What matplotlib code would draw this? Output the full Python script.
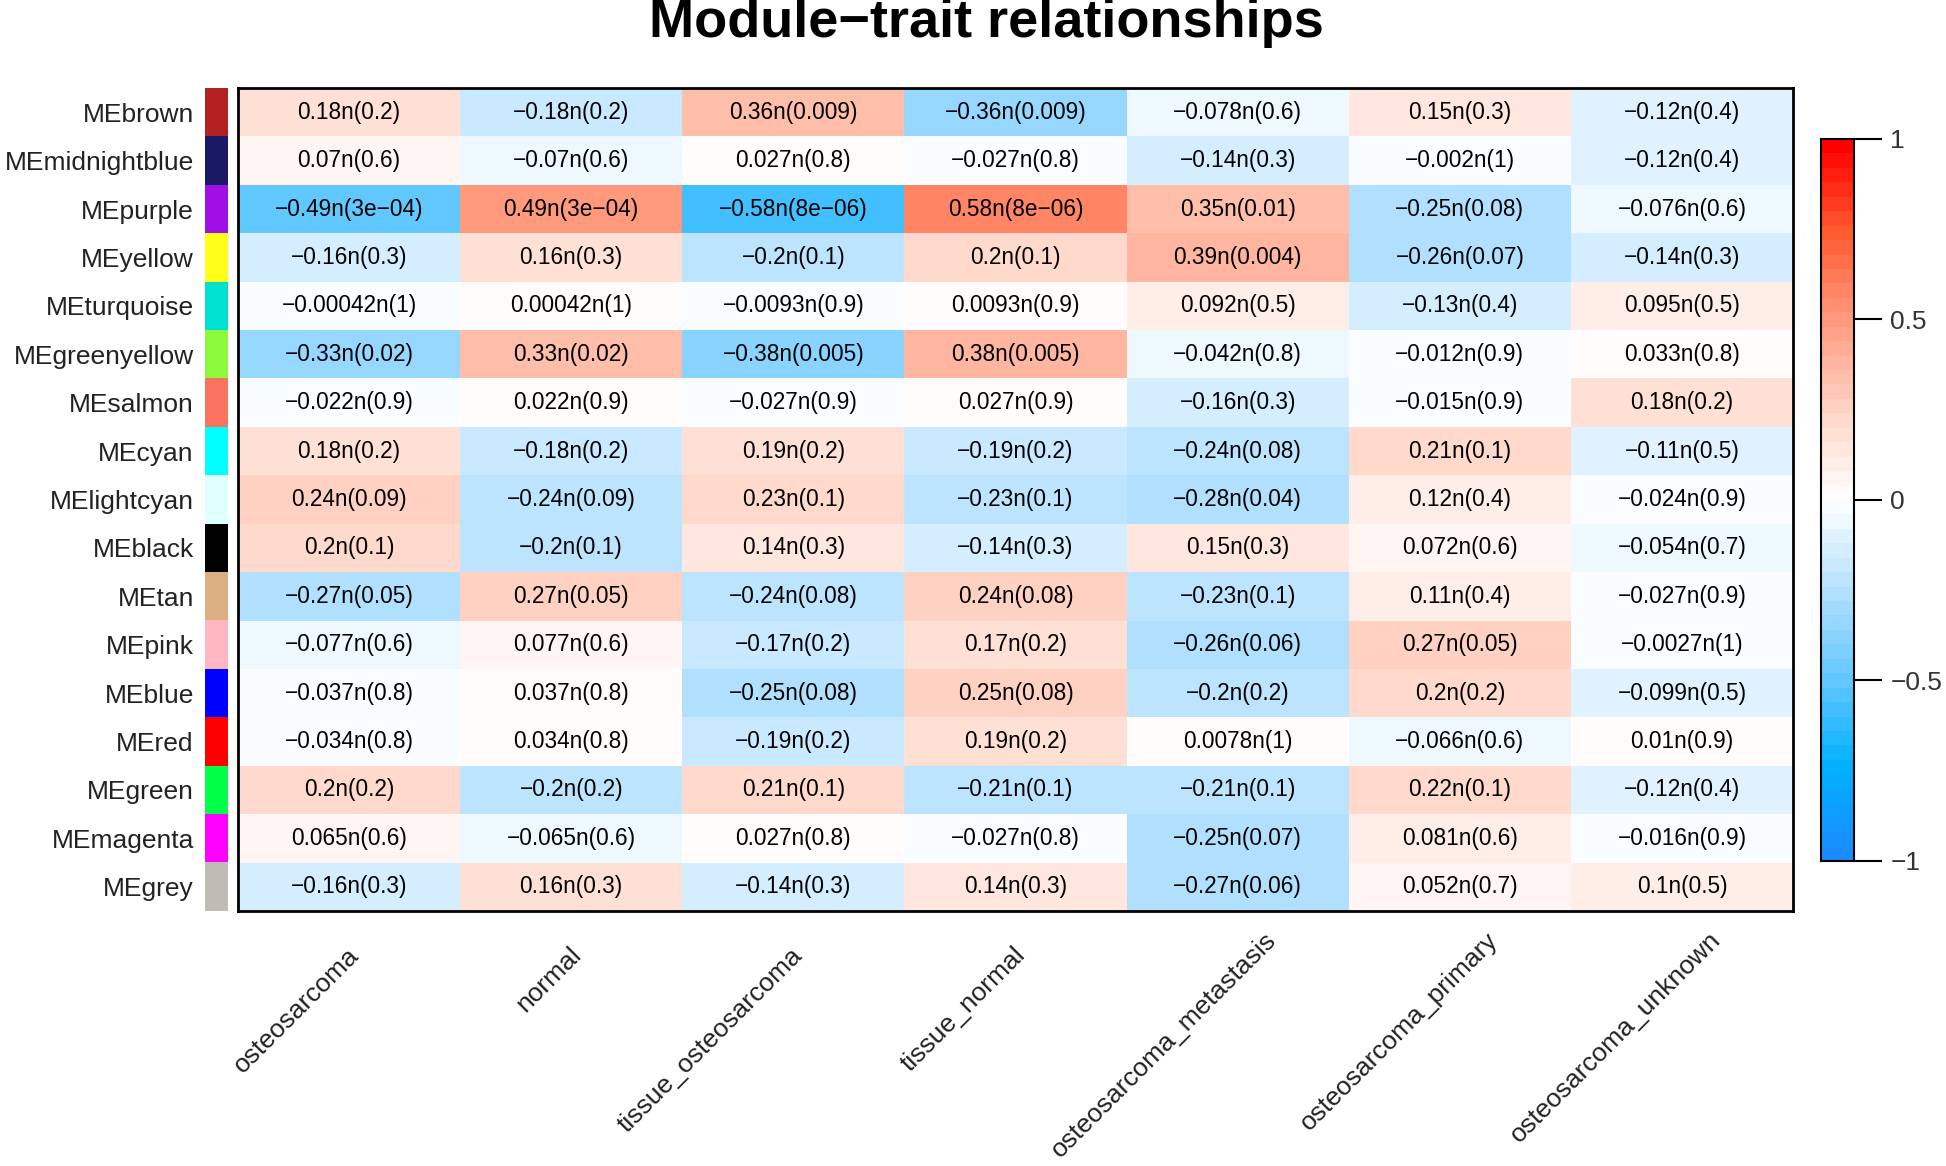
import matplotlib
matplotlib.use("Agg")
import matplotlib.pyplot as plt
import numpy as np
from matplotlib.colors import LinearSegmentedColormap, ListedColormap, BoundaryNorm

plt.rcParams['font.family'] = ['Liberation Sans', 'DejaVu Sans']

# traits (columns) and modules (rows)
traits = ["osteosarcoma", "normal", "tissue_osteosarcoma", "tissue_normal",
          "osteosarcoma_metastasis", "osteosarcoma_primary", "osteosarcoma_unknown"]
modules = ["MEbrown", "MEmidnightblue", "MEpurple", "MEyellow", "MEturquoise",
           "MEgreenyellow", "MEsalmon", "MEcyan", "MElightcyan", "MEblack", "MEtan",
           "MEpink", "MEblue", "MEred", "MEgreen", "MEmagenta", "MEgrey"]
module_colors = ["#B22222", "#191966", "#A010E6", "#FFFF1A", "#00E0D0", "#8CFA3C",
                 "#FA735F", "#00FFFF", "#E0FFFF", "#000000", "#DCAF82", "#FFB6C1",
                 "#0000FF", "#FF0000", "#00FF46", "#FF00FF", "#C0BCB4"]

# module-trait correlations
cor = [
    [0.18, -0.18, 0.36, -0.36, -0.078, 0.15, -0.12],
    [0.07, -0.07, 0.027, -0.027, -0.14, -0.002, -0.12],
    [-0.49, 0.49, -0.58, 0.58, 0.35, -0.25, -0.076],
    [-0.16, 0.16, -0.2, 0.2, 0.39, -0.26, -0.14],
    [-0.00042, 0.00042, -0.0093, 0.0093, 0.092, -0.13, 0.095],
    [-0.33, 0.33, -0.38, 0.38, -0.042, -0.012, 0.033],
    [-0.022, 0.022, -0.027, 0.027, -0.16, -0.015, 0.18],
    [0.18, -0.18, 0.19, -0.19, -0.24, 0.21, -0.11],
    [0.24, -0.24, 0.23, -0.23, -0.28, 0.12, -0.024],
    [0.2, -0.2, 0.14, -0.14, 0.15, 0.072, -0.054],
    [-0.27, 0.27, -0.24, 0.24, -0.23, 0.11, -0.027],
    [-0.077, 0.077, -0.17, 0.17, -0.26, 0.27, -0.0027],
    [-0.037, 0.037, -0.25, 0.25, -0.2, 0.2, -0.099],
    [-0.034, 0.034, -0.19, 0.19, 0.0078, -0.066, 0.01],
    [0.2, -0.2, 0.21, -0.21, -0.21, 0.22, -0.12],
    [0.065, -0.065, 0.027, -0.027, -0.25, 0.081, -0.016],
    [-0.16, 0.16, -0.14, 0.14, -0.27, 0.052, 0.1],
]

# p-values as printed
pval = [
    ["0.2", "0.2", "0.009", "0.009", "0.6", "0.3", "0.4"],
    ["0.6", "0.6", "0.8", "0.8", "0.3", "1", "0.4"],
    ["3e-04", "3e-04", "8e-06", "8e-06", "0.01", "0.08", "0.6"],
    ["0.3", "0.3", "0.1", "0.1", "0.004", "0.07", "0.3"],
    ["1", "1", "0.9", "0.9", "0.5", "0.4", "0.5"],
    ["0.02", "0.02", "0.005", "0.005", "0.8", "0.9", "0.8"],
    ["0.9", "0.9", "0.9", "0.9", "0.3", "0.9", "0.2"],
    ["0.2", "0.2", "0.2", "0.2", "0.08", "0.1", "0.5"],
    ["0.09", "0.09", "0.1", "0.1", "0.04", "0.4", "0.9"],
    ["0.1", "0.1", "0.3", "0.3", "0.3", "0.6", "0.7"],
    ["0.05", "0.05", "0.08", "0.08", "0.1", "0.4", "0.9"],
    ["0.6", "0.6", "0.2", "0.2", "0.06", "0.05", "1"],
    ["0.8", "0.8", "0.08", "0.08", "0.2", "0.2", "0.5"],
    ["0.8", "0.8", "0.2", "0.2", "1", "0.6", "0.9"],
    ["0.2", "0.2", "0.1", "0.1", "0.1", "0.1", "0.4"],
    ["0.6", "0.6", "0.8", "0.8", "0.07", "0.6", "0.9"],
    ["0.3", "0.3", "0.3", "0.3", "0.06", "0.7", "0.5"],
]

cor_arr = np.array(cor)
nrow, ncol = cor_arr.shape

# blue-white-red, 50 discrete steps like WGCNA
base = LinearSegmentedColormap.from_list("bwr50", [
    (0.00, "#1A8CFF"), (0.12, "#00B0FF"), (0.25, "#66C8FF"), (0.38, "#B8E2FF"),
    (0.50, "#FFFFFF"),
    (0.62, "#FFD6C8"), (0.75, "#FF9C80"), (0.88, "#FF5A30"), (1.00, "#FF0000")])
cmap = ListedColormap(base(np.linspace(0, 1, 50)))
bounds = np.linspace(-1, 1, 51)
norm = BoundaryNorm(bounds, cmap.N)

fig = plt.figure(figsize=(19.46, 11.66), dpi=100)

ax_left, ax_right = 0.1223, 0.9214
ax_bot, ax_top = 0.2187, 0.9245
ax = fig.add_axes([ax_left, ax_bot, ax_right - ax_left, ax_top - ax_bot])
ax.pcolormesh(np.arange(ncol + 1), np.arange(nrow + 1), cor_arr, cmap=cmap, norm=norm)
ax.set_xlim(0, ncol)
ax.set_ylim(nrow, 0)
for s in ax.spines.values():
    s.set_linewidth(2)
ax.set_yticks([])
ax.set_xticks([])

for i in range(nrow):
    for j in range(ncol):
        txt = f"{cor[i][j]:g}n({pval[i][j]})".replace("-", "\u2212")
        ax.text(j + 0.5, i + 0.5, txt, ha='center', va='center', fontsize=16.3, color='black')

# rotated trait labels (the last three sit a bit higher/right in the original)
for j, t in enumerate(traits):
    off = (-2, -23) if j < 4 else (19, -12)
    ax.annotate(t, xy=(j + 0.5, nrow), xycoords='data', xytext=off,
                textcoords='offset points', rotation=45, rotation_mode='anchor',
                ha='right', va='top', fontsize=19, color='#222222')

# module colour strip with labels
sx = fig.add_axes([0.1053, ax_bot, 0.0114, ax_top - ax_bot])
sx.imshow(np.arange(nrow).reshape(-1, 1), cmap=ListedColormap(module_colors),
          aspect='auto', interpolation='nearest', extent=(0, 1, nrow, 0))
sx.set_xticks([])
sx.set_yticks(np.arange(nrow) + 0.5)
sx.set_yticklabels(modules, fontsize=19, color='#222222')
sx.tick_params(axis='y', length=0, pad=8)
for s in sx.spines.values():
    s.set_visible(False)

# colour bar
cx = fig.add_axes([0.9358, 0.2616, 0.0170, 0.6192])
cx.pcolormesh([0, 1], bounds, ((bounds[:-1] + bounds[1:]) / 2).reshape(-1, 1), cmap=cmap, norm=norm)
cx.set_xlim(0, 1)
cx.set_ylim(-1, 1)
cx.set_xticks([])
cx.yaxis.tick_right()
cx.set_yticks([-1, -0.5, 0, 0.5, 1])
cx.set_yticklabels(["\u22121", "\u22120.5", "0", "0.5", "1"], fontsize=19, color='#333333')
cx.tick_params(axis='y', length=20, width=1.5, pad=6)
for s in cx.spines.values():
    s.set_linewidth(1.5)

fig.text(0.507, 1 - 23 / 1166, "Module\u2212trait relationships", ha='center', va='center',
         fontsize=39, fontweight='bold')

fig.savefig("out.png", dpi=100)
